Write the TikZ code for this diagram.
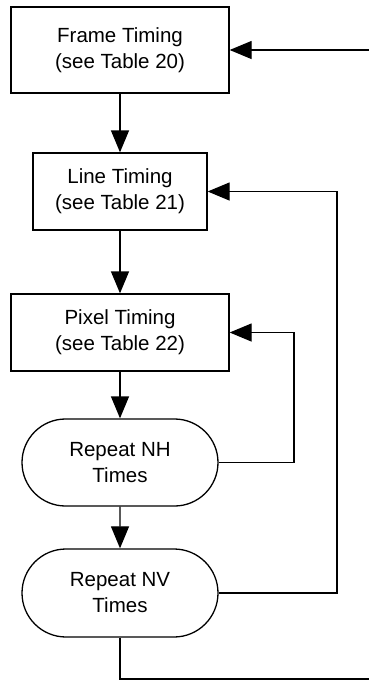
\documentclass[tikz,border=0pt]{standalone}
\usepackage{fontspec}
\setmainfont{Liberation Sans}
\usetikzlibrary{arrows.meta,shapes.misc}

\begin{document}
\begin{tikzpicture}[x=1pt,y=-1pt,line width=1.3pt]
		\useasboundingbox (0,0) rectangle (369,681);
		\begin{scope}[every node/.style={draw,inner sep=0pt,align=center,font=\fontsize{20.5}{26}\selectfont}]
			\node[rectangle,minimum width=218pt,minimum height=86pt] (F) at (120,50) {Frame Timing\\(see Table 20)};
			\node[rectangle,minimum width=174pt,minimum height=77pt] (L) at (120,191.5) {Line Timing\\(see Table 21)};
			\node[rectangle,minimum width=218pt,minimum height=77pt] (P) at (120,332.5) {Pixel Timing\\(see Table 22)};
			\node[rounded rectangle,minimum width=196pt,minimum height=87pt] (NH) at (120,462.5) {Repeat NH\\Times};
			\node[rounded rectangle,minimum width=196pt,minimum height=88pt] (NV) at (120,593) {Repeat NV\\Times};
		\end{scope}

		\coordinate (In) at (369,50);
		\coordinate (Out) at (369,679);
		\coordinate (HLoop) at (294,0);
		\coordinate (VLoop) at (337,0);

		\begin{scope}[>={Triangle[length=22pt,width=18pt]},
					every edge/.style={draw=black,line width=1.3pt}]
			\path [->] (F) edge (L);
			\path [->] (L) edge (P);
			\path [->] (P) edge (NH);
			\path [->] (NH) edge (NV);
			\path [->] (In) edge (F.east);
			\draw [->] (NH.east) -- (NH.east -| HLoop) |- (P.east);
			\draw [->] (NV.east) -- (NV.east -| VLoop) |- (L.east);
			\draw (NV.south) |- (Out);
		\end{scope}
	\end{tikzpicture}
\end{document}
